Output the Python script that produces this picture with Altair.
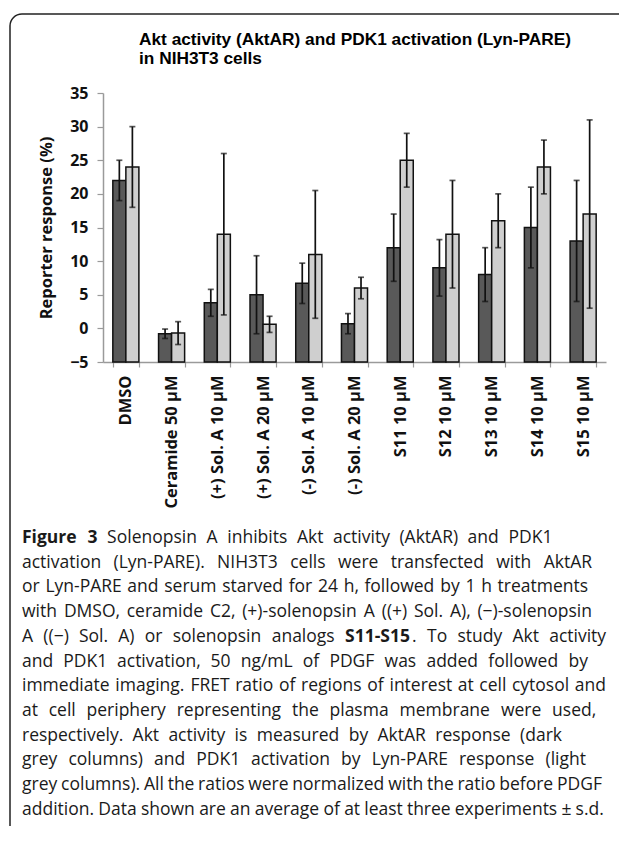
import altair as alt
import pandas as pd

# ---------------- data ----------------
categories = ["DMSO", "Ceramide 50 µM", "(+) Sol. A 10 µM", "(+) Sol. A 20 µM",
              "(-) Sol. A 10 µM", "(-) Sol. A 20 µM", "S11 10 µM", "S12 10 µM",
              "S13 10 µM", "S14 10 µM", "S15 10 µM"]
series_names = ["AktAR", "Lyn-PARE"]
aktar_mean = [22, -0.8, 3.8, 5.0, 6.7, 0.7, 12, 9, 8, 15, 13]
aktar_sd = [3, 0.7, 2.0, 5.8, 3.0, 1.5, 5, 4.2, 4, 6, 9]
lyn_mean = [24, -0.7, 14, 0.6, 11, 6, 25, 14, 16, 24, 17]
lyn_sd = [6, 1.7, 12, 1.2, 9.5, 1.6, 4, 8, 4, 4, 14]
y_ticks = [-5, 0, 5, 10, 15, 20, 25, 30, 35]

title_lines = ["Akt activity (AktAR) and PDK1 activation (Lyn-PARE)",
               "in NIH3T3 cells"]
caption_lines = [
    "Figure 3 Solenopsin A inhibits Akt activity (AktAR) and PDK1",
    "activation (Lyn-PARE). NIH3T3 cells were transfected with AktAR",
    "or Lyn-PARE and serum starved for 24 h, followed by 1 h treatments",
    "with DMSO, ceramide C2, (+)-solenopsin A ((+) Sol. A), (\u2212)-solenopsin",
    "A ((\u2212) Sol. A) or solenopsin analogs S11-S15. To study Akt activity",
    "and PDK1 activation, 50 ng/mL of PDGF was added followed by",
    "immediate imaging. FRET ratio of regions of interest at cell cytosol and",
    "at cell periphery representing the plasma membrane were used,",
    "respectively. Akt activity is measured by AktAR response (dark",
    "grey columns) and PDK1 activation by Lyn-PARE response (light",
    "grey columns). All the ratios were normalized with the ratio before PDGF",
    "addition. Data shown are an average of at least three experiments \u00b1 s.d.",
]
caption_bold = {(0, "Figure"): "Figure", (0, "3"): "3", (4, "S11-S15."): "S11-S15"}

rows = []
for i, c in enumerate(categories):
    rows.append(dict(cat=c, series="AktAR", mean=aktar_mean[i], sd=aktar_sd[i]))
    rows.append(dict(cat=c, series="Lyn-PARE", mean=lyn_mean[i], sd=lyn_sd[i]))
df = pd.DataFrame(rows)
df["lo"] = df["mean"] - df["sd"]
df["hi"] = df["mean"] + df["sd"]

# ---------------- layout ----------------
W, H = 503, 269
PAD = {"left": 95, "top": 85, "right": 13, "bottom": 464}
AXIS_GREY = "#9a9a9a"
INK = "#111111"

# approximate Open Sans advance widths (em) used to lay the caption out
_w = {" ": .26, "a": .556, "b": .613, "c": .476, "d": .613, "e": .561, "f": .339,
      "g": .548, "h": .614, "i": .253, "j": .253, "k": .525, "l": .253, "m": .93,
      "n": .614, "o": .604, "p": .613, "q": .613, "r": .408, "s": .477, "t": .353,
      "u": .614, "v": .501, "w": .778, "x": .524, "y": .502, "z": .477,
      "A": .633, "B": .648, "C": .631, "D": .729, "E": .556, "F": .516, "G": .728,
      "H": .738, "I": .279, "K": .586, "L": .51, "M": .903, "N": .754, "O": .779,
      "P": .602, "R": .618, "S": .539, "T": .549, ".": .266, ",": .244, "(": .292,
      ")": .292, "-": .322, "/": .367, "\u00b1": .572, "\u2212": .572, "+": .572}
for d in "0123456789":
    _w[d] = .572


def text_w(s, size, bold=False):
    tot = 0.0
    for ch in s:
        v = _w.get(ch, .55)
        if bold and not ch.isdigit():
            v *= 1.1
        tot += v
    return tot * size


CS = 17.5
CX0 = 22            # caption left (page px)
CY0 = 543           # first caption baseline (page px)
DY = 24.7
line_end = [552, 592, 588, 592, 606, 588, 606, 596, 562, 586, 602, 604]
OX, OY = 103, 93    # plot origin on the page

pieces = []
for li, line in enumerate(caption_lines):
    words = line.split(" ")
    segs = []
    for w in words:
        key = (li, w)
        if key in caption_bold:
            b = caption_bold[key]
            s = [(b, True)]
            rest = w[len(b):]
            if rest:
                s.append((rest, False))
        else:
            s = [(w, False)]
        segs.append(s)
    widths = [sum(text_w(t, CS, b) for t, b in s) for s in segs]
    gap = (line_end[li] - CX0 - sum(widths)) / (len(words) - 1)
    gap = max(gap, 0.75 * 0.26 * CS)
    x = CX0
    for s, wd in zip(segs, widths):
        xx = x
        for t, b in s:
            pieces.append(dict(t=t, px=xx - OX, py=CY0 + li * DY - OY, bold=b))
            xx += text_w(t, CS, b)
        x += wd + gap
cap_df = pd.DataFrame(pieces)

x_axis = alt.Axis(labelAngle=270, labelAlign="right", labelBaseline="middle",
                  labelFont="Open Sans", labelFontWeight="bold", labelFontSize=16.5,
                  labelColor=INK, labelPadding=8, labelLimit=0,
                  tickBand="extent", tickSize=5, tickColor=AXIS_GREY,
                  domainColor=AXIS_GREY, domainWidth=1.5, tickWidth=1.2)
y_axis = alt.Axis(values=y_ticks, grid=False, domainColor=AXIS_GREY, domainWidth=1.5,
                  tickColor=AXIS_GREY, tickSize=6, tickWidth=1.2,
                  labelFont="Open Sans", labelFontWeight="bold", labelFontSize=16,
                  labelColor=INK, labelPadding=9, labelOverlap=False,
                  titleFont="Open Sans", titleFontWeight="bold", titleFontSize=16.5,
                  titleColor=INK, titleX=-57, titleY=H / 2, titleAngle=270,
                  titleAlign="center", titleBaseline="middle")
x_scale = alt.Scale(paddingInner=0.43, paddingOuter=0.215)
y_scale = alt.Scale(domain=[-5, 35], nice=False, zero=False)
Y_TITLE = "Reporter response (%)"


def xe():
    return alt.X("cat:N", sort=categories, title=None, scale=x_scale, axis=x_axis)


def ye(field):
    return alt.Y(field, scale=y_scale, title=Y_TITLE, axis=y_axis)


xo = alt.XOffset("series:N", sort=series_names,
                 scale=alt.Scale(paddingInner=0, paddingOuter=0))

base = alt.Chart(df)
bars = base.mark_bar(stroke=INK, strokeWidth=1.5).encode(
    x=xe(), xOffset=xo, y=ye("mean:Q"), y2=alt.datum(-5),
    color=alt.Color("series:N", scale=alt.Scale(domain=series_names,
                                                range=["#595959", "#cfcfcf"]), legend=None),
)
rules = base.mark_rule(color=INK, strokeWidth=1.7).encode(
    x=xe(), xOffset=xo, y=ye("lo:Q"), y2="hi:Q")
caps_lo = base.mark_tick(color=INK, thickness=1.7, size=6).encode(
    x=xe(), xOffset=xo, y=ye("lo:Q"))
caps_hi = base.mark_tick(color=INK, thickness=1.7, size=6).encode(
    x=xe(), xOffset=xo, y=ye("hi:Q"))

# frame around the figure
frame = alt.Chart(pd.DataFrame({"k": [0]})).mark_rect(
    fillOpacity=0, stroke="#222", strokeWidth=1.5, cornerRadius=12).encode(
    x=alt.value(-93), x2=alt.value(560), y=alt.value(-79), y2=alt.value(770))


def text_layer(txt, x, y, font, size, weight="normal", color="#1a1a1a"):
    return alt.Chart(pd.DataFrame({"t": [txt]})).mark_text(
        align="left", baseline="alphabetic", font=font, fontSize=size,
        fontWeight=weight, color=color).encode(
        text="t:N", x=alt.value(x), y=alt.value(y))


title1 = text_layer(title_lines[0], 139 - OX, 45 - OY, "Liberation Sans", 17.3, "bold", "#000")
title2 = text_layer(title_lines[1], 139 - OX, 64 - OY, "Liberation Sans", 17.3, "bold", "#000")

cap_base = alt.Chart(cap_df)
cap_reg = cap_base.transform_filter("!datum.bold").mark_text(
    align="left", baseline="alphabetic", font="Open Sans", fontSize=CS,
    color="#1a1a1a").encode(
    text="t:N", x=alt.X("px:Q", scale=None, axis=None), y=alt.Y("py:Q", scale=None, axis=None))
cap_bold = cap_base.transform_filter("datum.bold").mark_text(
    align="left", baseline="alphabetic", font="Open Sans", fontSize=CS, fontWeight="bold",
    color="#1a1a1a").encode(
    text="t:N", x=alt.X("px:Q", scale=None, axis=None), y=alt.Y("py:Q", scale=None, axis=None))

chart = alt.layer(frame, bars, rules, caps_lo, caps_hi, title1, title2,
                  cap_reg, cap_bold).properties(
    width=W, height=H,
    autosize=alt.AutoSizeParams(type="none"),
    padding=PAD,
    background="white",
).configure_view(stroke=None)

chart.save("out.html", embed_options={"renderer": "svg", "actions": False})
